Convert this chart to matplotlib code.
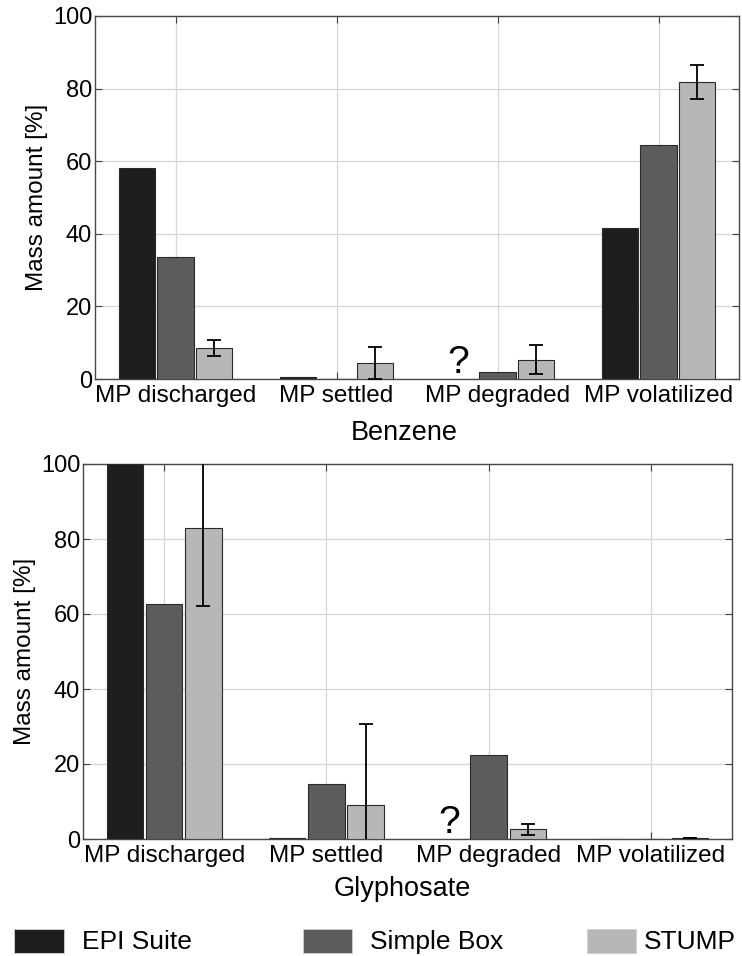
import numpy as np
import matplotlib
matplotlib.use("Agg")
import matplotlib.pyplot as plt
from matplotlib.patches import Rectangle

plt.rcParams['font.family'] = ['Liberation Sans', 'DejaVu Sans']

categories = ["MP discharged", "MP settled", "MP degraded", "MP volatilized"]
models = ["EPI Suite", "Simple Box", "STUMP"]
colors = ["#1e1e1e", "#5c5c5c", "#b7b7b7"]

# Benzene: mass amount [%] per model (NaN = not available)
benzene_epi = [58.0, 0.5, np.nan, 41.5]
benzene_sbox = [33.5, 0.1, 2.0, 64.6]
benzene_stump = [8.6, 4.4, 5.3, 81.8]
benzene_stump_err = [2.2, 4.5, 4.0, 4.7]

# Glyphosate
glyph_epi = [100.0, 0.3, np.nan, 0.0]
glyph_sbox = [62.8, 14.7, 22.5, 0.0]
glyph_stump = [82.9, 9.1, 2.6, 0.15]
glyph_stump_err = [20.8, 21.6, 1.5, 0.0]

W, H = 742, 956
fig = plt.figure(figsize=(W / 100, H / 100), dpi=100)


def fx(px):
    return px / W


def fy(py):
    return 1 - py / H


def panel(rect, epi, sbox, stump, err, label, label_xy, ylabel_x):
    l, t, r, b = rect
    ax = fig.add_axes([fx(l), fy(b), fx(r) - fx(l), fy(t) - fy(b)])
    x = np.arange(1, len(categories) + 1)
    off = 0.242
    w = 0.224
    for i, vals in enumerate([epi, sbox, stump]):
        ax.bar(x + (i - 1) * off, vals, width=w, color=colors[i],
               edgecolor="#2a2a2a", linewidth=0.8, zorder=3)
    ax.errorbar(x + off, stump, yerr=err, fmt="none", ecolor="black",
                elinewidth=1.3, capsize=5, capthick=1.3, zorder=4)
    # unknown EPI Suite degradation
    for k, v in enumerate(epi):
        if np.isnan(v):
            ax.text(x[k] - off, 1.6, "?", ha="center", va="baseline",
                    fontsize=28, zorder=5)
    ax.set_xlim(0.5, len(categories) + 0.5)
    ax.set_ylim(0, 100)
    ax.set_xticks(x)
    ax.set_xticklabels(categories, fontsize=17.5)
    ax.set_yticks(np.arange(0, 101, 20))
    ax.tick_params(axis="y", labelsize=17, pad=2)
    ax.tick_params(axis="x", pad=4)
    ax.tick_params(direction="in", length=5, width=0.8, color="#404040",
                   top=True, right=True)
    ax.grid(True, color="#d6d6d6", linewidth=0.9, zorder=0)
    ax.set_axisbelow(True)
    for s in ax.spines.values():
        s.set_color("#484848")
        s.set_linewidth(1.0)
    fig.text(fx(ylabel_x), fy((t + b) / 2), "Mass amount [%]", rotation=90,
             ha="center", va="center", fontsize=17.5)
    fig.text(fx(label_xy[0]), fy(label_xy[1]), label, ha="center",
             va="center", fontsize=19.5)
    return ax


panel((95, 16, 739, 379), benzene_epi, benzene_sbox, benzene_stump,
      benzene_stump_err, "Benzene", (404, 433), 37)
panel((83, 464, 732, 839), glyph_epi, glyph_sbox, glyph_stump,
      glyph_stump_err, "Glyphosate", (402, 889), 25)

# legend row
legend_rects = [(14, 64), (303, 352), (587, 636)]
legend_text_x = [82, 370, 644]
for (x0, x1), tx, c, name in zip(legend_rects, legend_text_x, colors, models):
    fig.add_artist(Rectangle((fx(x0), fy(953)), fx(x1) - fx(x0),
                             fy(929) - fy(953), transform=fig.transFigure,
                             facecolor=c, edgecolor="#d0d0d0", linewidth=0.6))
    fig.text(fx(tx), fy(942), name, ha="left", va="center", fontsize=19)

fig.savefig("out.png", dpi=100)
